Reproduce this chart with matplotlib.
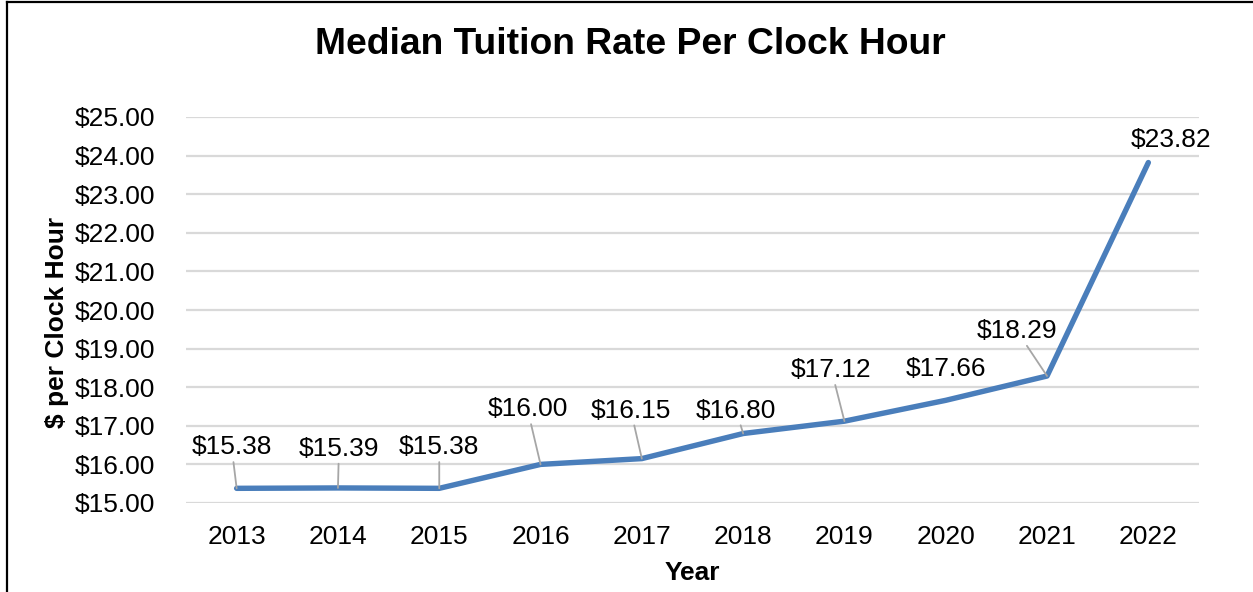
import matplotlib
matplotlib.use("Agg")
import matplotlib.pyplot as plt
from matplotlib.lines import Line2D
from matplotlib.ticker import FuncFormatter, MultipleLocator

plt.rcParams['font.family'] = ['Liberation Sans', 'DejaVu Sans']

# ---- data ----
years = ["2013", "2014", "2015", "2016", "2017", "2018", "2019", "2020", "2021", "2022"]
rates = [15.38, 15.39, 15.38, 16.00, 16.15, 16.80, 17.12, 17.66, 18.29, 23.82]
label_texts = ["$15.38", "$15.39", "$15.38", "$16.00", "$16.15", "$16.80",
               "$17.12", "$17.66", "$18.29", "$23.82"]

# label offsets (pixels, right/up) and leader-line flags
label_dx = [-5, 1, 0, -13, -11, -7, -13, 0, -30, 23]
label_dy = [41, 39, 41, 55, 48, 23, 51, 31, 45, 23]
show_leader = [True, True, True, True, True, True, True, False, True, False]

W, H = 1253, 592
fig = plt.figure(figsize=(W / 100, H / 100), dpi=100, facecolor="white")
ax = fig.add_axes([186 / W, (H - 503) / H, (1199 - 186) / W, (503 - 117) / H])

x = list(range(len(years)))
ax.plot(x, rates, color="#4a7ebb", lw=3.9, solid_capstyle="round",
        solid_joinstyle="round", zorder=3)

ax.set_xlim(-0.5, len(years) - 0.5)
ax.set_ylim(15, 25)
ax.yaxis.set_major_locator(MultipleLocator(1))
ax.yaxis.set_major_formatter(FuncFormatter(lambda v, p: f"${v:.2f}"))
ax.set_xticks(x)
ax.set_xticklabels(years)
ax.grid(axis="y", color="#d9d9d9", lw=1.6, zorder=0)
ax.set_axisbelow(True)
for s in ax.spines.values():
    s.set_visible(False)
ax.tick_params(axis="both", length=0, labelsize=19, colors="black")
ax.tick_params(axis="y", pad=22)
ax.tick_params(axis="x", pad=16)

px2pt = 0.72
for i, (xi, yi) in enumerate(zip(x, rates)):
    kw = {}
    if show_leader[i]:
        kw["arrowprops"] = dict(arrowstyle="-", color="#a6a6a6", lw=1.3,
                                shrinkA=0, shrinkB=0)
    ax.annotate(label_texts[i], xy=(xi, yi),
                xytext=(label_dx[i] * px2pt, label_dy[i] * px2pt),
                textcoords="offset points", ha="center", va="center",
                fontsize=19, color="black", zorder=4, **kw)

fig.text(630 / W, 1 - 45 / H, "Median Tuition Rate Per Clock Hour",
         ha="center", va="center", fontsize=26.8, fontweight="bold")
fig.text(692 / W, 1 - 573 / H, "Year", ha="center", va="center",
         fontsize=19, fontweight="bold")
fig.text(57 / W, 1 - 322 / H, "$ per Clock Hour", ha="center", va="center",
         rotation=90, fontsize=19, fontweight="bold")

# chart border (left and top visible)
fig.add_artist(Line2D([7 / W, 7 / W], [0, 1 - 2 / H], transform=fig.transFigure,
                      color="black", lw=1.6))
fig.add_artist(Line2D([7 / W, 1], [1 - 2 / H, 1 - 2 / H], transform=fig.transFigure,
                      color="black", lw=1.6))

fig.savefig("out.png", dpi=100, facecolor="white")
